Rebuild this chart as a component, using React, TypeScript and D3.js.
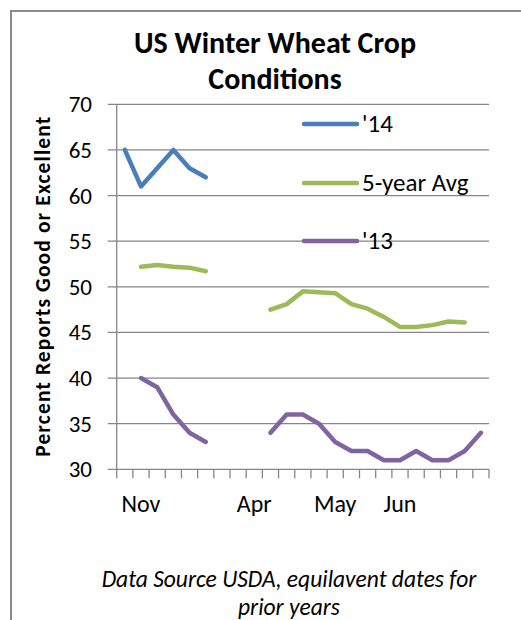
import React from "react";
import * as d3 from "d3";

const categories = ["", "Nov", "", "", "", "", "", "", "Apr", "", "", "", "", "May", "", "", "", "Jun", "", "", "", "", ""];
const series14: (number | null)[] = [65, 61, 63, 65, 63, 62, null, null, null, null, null, null, null, null, null, null, null, null, null, null, null, null, null];
const seriesAvg: (number | null)[] = [null, 52.2, 52.4, 52.2, 52.1, 51.7, null, null, null, 47.5, 48.1, 49.5, 49.4, 49.3, 48.1, 47.6, 46.7, 45.6, 45.6, 45.8, 46.2, 46.1, null];
const series13: (number | null)[] = [null, 40, 39, 36, 34, 33, null, null, null, 34, 36, 36, 35, 33, 32, 32, 31, 31, 32, 31, 31, 32, 34];
const yTicks = [30, 35, 40, 45, 50, 55, 60, 65, 70];
const seriesNames = ["'14", "5-year Avg", "'13"];
const seriesColors = ["#4A7EBB", "#9BBB59", "#8064A2"];

const FONT = "Carlito, Calibri, Lato, 'Open Sans', sans-serif";

export default function App() {
  const W = 521, H = 620;
  const left = 116.7, right = 489, top = 104.3, bottom = 469.3;
  const idx = categories.map((_, i) => i);
  const x = d3.scaleBand<number>().domain(idx).range([left, right]).padding(0);
  const y = d3.scaleLinear().domain([30, 70]).range([bottom, top]);
  const cx = (i: number) => (x(i) as number) + x.bandwidth() / 2;
  const line = d3
    .line<number | null>()
    .defined((d) => d != null)
    .x((_, i) => cx(i))
    .y((d) => y(d as number));
  const all = [series14, seriesAvg, series13];
  const legendY = [124, 183, 241];
  const tickXs = d3.range(categories.length + 1).map((i) => left + i * x.step());

  return (
    <svg width={W} height={H} style={{ position: "absolute", left: 0, top: 0, background: "#fff" }} fontFamily={FONT}>
      <rect x={0} y={0} width={W} height={H} fill="#fff" />
      <rect x={11} y={11} width={W + 20} height={H + 20} fill="none" stroke="#8a8a8a" strokeWidth={2} />
      <text x={275} y={52.5} textAnchor="middle" fontSize={30} fontWeight="bold" fill="#000">US Winter Wheat Crop</text>
      <text x={275} y={88.5} textAnchor="middle" fontSize={30} fontWeight="bold" fill="#000">Conditions</text>
      {yTicks.map((t) => (
        <g key={t}>
          <line x1={left - 9} x2={right} y1={y(t)} y2={y(t)} stroke="#868686" strokeWidth={1.3} />
          <text x={92} y={y(t) + 8} textAnchor="end" fontSize={23} fill="#000">{t}</text>
        </g>
      ))}
      <line x1={left} x2={left} y1={top} y2={bottom} stroke="#868686" strokeWidth={1.3} />
      {tickXs.map((tx, i) => (
        <line key={i} x1={tx} x2={tx} y1={bottom} y2={bottom + 9} stroke="#868686" strokeWidth={1.3} />
      ))}
      {categories.map((c, i) =>
        c ? (
          <text key={i} x={cx(i)} y={512} textAnchor="middle" fontSize={24} fill="#000">{c}</text>
        ) : null
      )}
      <text
        transform={`translate(50,${(top + bottom) / 2}) rotate(-90)`}
        textAnchor="middle"
        fontSize={21.5}
        fontWeight="bold"
        fill="#000"
        textLength={340}
        lengthAdjust="spacing"
      >
        Percent Reports Good or Excellent
      </text>
      {all.map((s, k) => (
        <path key={k} d={line(s) || ""} fill="none" stroke={seriesColors[k]} strokeWidth={4.5} strokeLinejoin="round" strokeLinecap="round" />
      ))}
      {seriesNames.map((n, k) => (
        <g key={n}>
          <line x1={304} x2={357} y1={legendY[k]} y2={legendY[k]} stroke={seriesColors[k]} strokeWidth={4.5} strokeLinecap="round" />
          <text x={362} y={legendY[k] + 8} fontSize={25} fill="#000">{n}</text>
        </g>
      ))}
      <text x={289} y={587} textAnchor="middle" fontSize={23.5} fontStyle="italic" fill="#000">Data Source USDA, equilavent dates for</text>
      <text x={289} y={615} textAnchor="middle" fontSize={23.5} fontStyle="italic" fill="#000">prior years</text>
    </svg>
  );
}
